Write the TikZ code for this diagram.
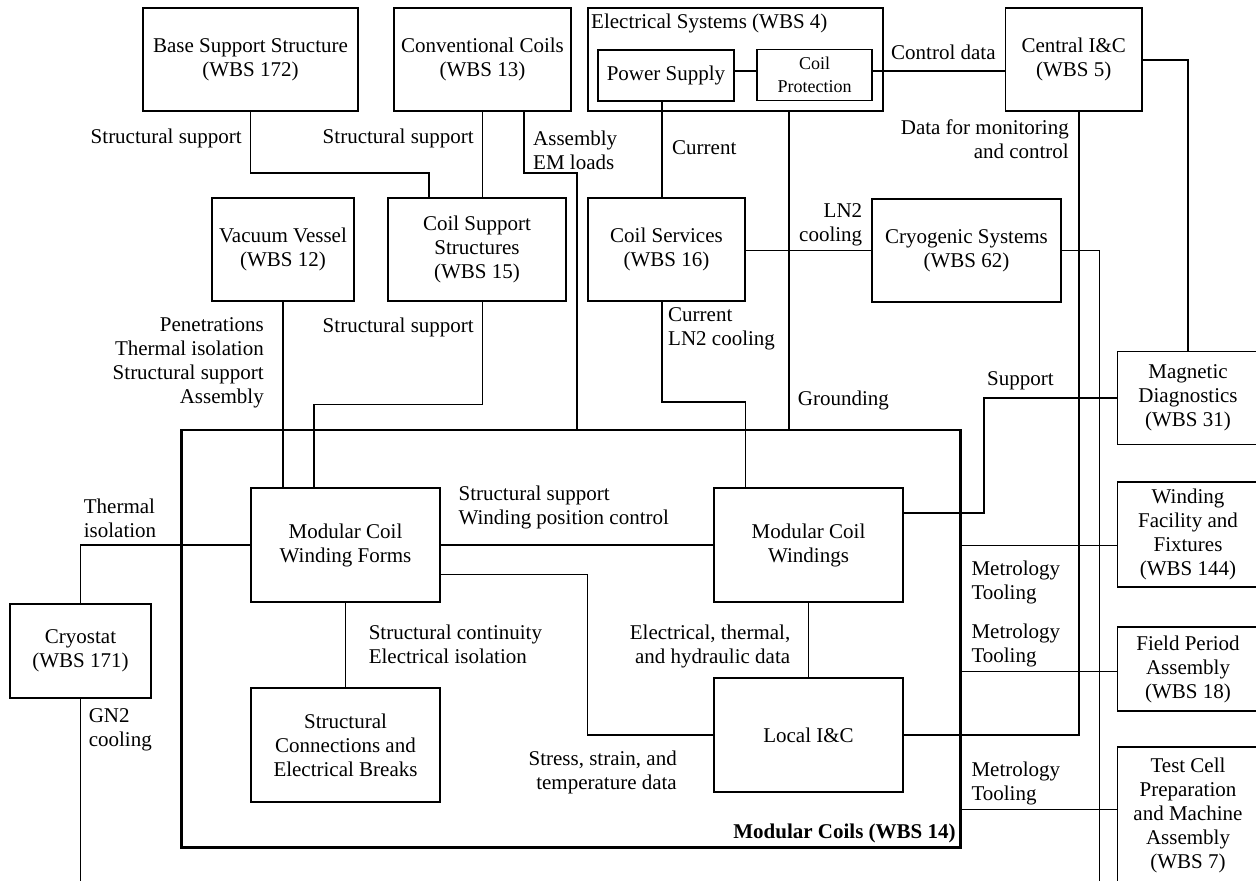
\documentclass[tikz,border=0pt]{standalone}
\usepackage{fontspec}
\setmainfont{Liberation Serif}
\begin{document}
\begin{tikzpicture}[x=1pt,y=-1pt,
  every node/.style={font=\fontsize{21}{24}\selectfont, inner sep=0pt},
  box/.style={draw, line width=1.3pt, align=center, inner sep=0pt},
  frame/.style={draw, line width=2.8pt, inner sep=0pt},
  conn/.style={line width=1.3pt},
  lblL/.style={align=left, anchor=west},
  lblR/.style={align=right, anchor=east},
  small/.style={font=\fontsize{18}{23}\selectfont},
]
\clip (0,0) rectangle (1256,881);
\fill[white] (0,0) rectangle (1256,881);

% ---------- boxes ----------
\node[box, minimum width=215pt, minimum height=103pt] (base) at (250.5,59.5) {Base Support Structure\\(WBS 172)};
\node[box, minimum width=177pt, minimum height=103pt] (conv) at (482.5,59.5) {Conventional Coils\\(WBS 13)};
\node[box, minimum width=295pt, minimum height=103pt] (elec) at (735.5,59.5) {};
\node[anchor=west] (eleclbl) at (591,23) {Electrical Systems (WBS 4)};
\node[box, minimum width=136pt, minimum height=51pt] (psup) at (666,75.5) {Power Supply};
\node[box, small, minimum width=115pt, minimum height=51pt] (cprot) at (814.5,75.3) {Coil\\Protection};
\node[box, minimum width=136.5pt, minimum height=103pt] (cic) at (1073.75,59.5) {Central I\&C\\(WBS 5)};

\node[box, minimum width=142pt, minimum height=103pt] (vac) at (283,249.5) {Vacuum Vessel\\(WBS 12)};
\node[box, minimum width=178pt, minimum height=103pt] (css) at (477,249.5) {Coil Support\\Structures\\(WBS 15)};
\node[box, minimum width=157pt, minimum height=103pt] (csv) at (666.5,249.5) {Coil Services\\(WBS 16)};
\node[box, minimum width=189pt, minimum height=103pt] (cryo) at (966.5,250.5) {Cryogenic Systems\\(WBS 62)};

\node[box, minimum width=141pt, minimum height=92.5pt] (mag) at (1188,398) {Magnetic\\Diagnostics\\(WBS 31)};
\node[box, minimum width=141pt, minimum height=105pt] (wfix) at (1188,534.5) {Winding\\Facility and\\Fixtures\\(WBS 144)};
\node[box, minimum width=141pt, minimum height=84pt] (fpa) at (1188,669) {Field Period\\Assembly\\(WBS 18)};
\node[box, minimum width=141pt, minimum height=138pt] (tcell) at (1188,816) {\raisebox{3pt}{\begin{tabular}{@{}c@{}}Test Cell\\Preparation\\and Machine\\Assembly\\(WBS 7)\end{tabular}}};

\node[frame, minimum width=778.8pt, minimum height=417.7pt] (mcbox) at (571.1,638.85) {};
\node[anchor=east, font=\fontsize{21}{24}\selectfont\bfseries] (mclbl) at (955.8,833) {Modular Coils (WBS 14)};

\node[box, minimum width=189pt, minimum height=114pt] (mcwf) at (345.5,545) {Modular Coil\\Winding Forms};
\node[box, minimum width=189pt, minimum height=114pt] (mcw) at (808.5,545) {Modular Coil\\Windings};
\node[box, minimum width=189pt, minimum height=114pt] (lic) at (808.5,735) {Local I\&C};
\node[box, minimum width=189pt, minimum height=114pt] (scon) at (345.5,745) {Structural\\Connections and\\Electrical Breaks};
\node[box, minimum width=141pt, minimum height=94pt] (cryost) at (80.5,651) {Cryostat\\(WBS 171)};

\coordinate (cryoend) at (1099.5,890);
\coordinate (cryostend) at (80.5,890);

% ---------- connectors ----------
\draw[conn] (base.south) |- (429,173) -- (429,0 |- css.north);
\draw[conn] (conv.south) -- (conv.south |- css.north);
\draw[conn] (524,0 |- conv.south) |- (577,173) -- (577,0 |- mcbox.north);
\draw[conn] (psup.east |- 0,71) -- (cprot.west |- 0,71);
\draw[conn] (cprot.east |- 0,71) -- (cic.west |- 0,71);
\draw[conn] (662,0 |- psup.south) -- (662,0 |- csv.north);
\draw[conn] (789,0 |- elec.south) -- (789,0 |- mcbox.north);
\draw[conn] (cic.east |- 0,60) -| (mag.north);
\draw[conn] (1079,0 |- cic.south) |- (lic.east);
\draw[conn] (cryo.west) -- (cryo.west -| csv.east);
\draw[conn] (cryo.east) -| (cryoend);
\draw[conn] (vac.south) -- (vac.south |- mcwf.north);
\draw[conn] (482.6,0 |- css.south) |- (314,404.7) -- (314,0 |- mcwf.north);
\draw[conn] (662,0 |- csv.south) |- (745.5,402) -- (745.5,0 |- mcw.north);
\draw[conn] (mag.west) -| (984,513) -- (984,513 -| mcw.east);
\draw[conn] (cryost.north) |- (mcwf.west);
\draw[conn] (cryost.south) -- (cryostend);
\draw[conn] (mcwf.east) -- (mcw.west);
\draw[conn] (mcwf.east |- 0,574.3) -| (587.8,735) -- (lic.west);
\draw[conn] (mcwf.south) -- (scon.north);
\draw[conn] (mcw.south) -- (lic.north);
\draw[conn] (mcbox.east |- 0,545.3) -- (wfix.west |- 0,545.3);
\draw[conn] (mcbox.east |- 0,671.7) -- (fpa.west |- 0,671.7);
\draw[conn] (mcbox.east |- 0,809.3) -- (tcell.west |- 0,809.3);

% ---------- labels ----------
\node[lblR] (l1) at (242,138) {Structural support};
\node[lblR] (l2) at (474,138) {Structural support};
\node[lblL] (l3) at (533,150) {Assembly\\EM loads};
\node[lblL] (l4) at (672,148) {Current};
\node[lblL] (l5) at (891,52) {Control data};
\node[lblR] (l6) at (1069,139.5) {Data for monitoring\\and control};
\node[lblR] (l7) at (862.4,224.5) {LN2\\cooling};
\node[lblR] (l8) at (264,363) {Penetrations\\Thermal isolation\\Structural support\\Assembly};
\node[lblR] (l9) at (474,327) {Structural support};
\node[lblL] (l10) at (668,329) {Current\\LN2 cooling};
\node[lblL] (l11) at (797.7,400) {Grounding};
\node[lblL] (l12) at (987,381) {Support};
\node[lblL] (l13) at (83.7,518) {Thermal\\isolation};
\node[lblL] (l14) at (88.6,729.5) {GN2\\cooling};
\node[lblL] (l15) at (458.4,507.5) {Structural support\\Winding position control};
\node[lblL] (l16) at (368.6,644) {Structural continuity\\Electrical isolation};
\node[lblR] (l17) at (790.4,646) {Electrical, thermal,\\and hydraulic data};
\node[lblR] (l18) at (677,772.3) {Stress, strain, and\\temperature data};
\node[lblL] (l19) at (971.3,582) {Metrology\\Tooling};
\node[lblL] (l20) at (971.3,645) {Metrology\\Tooling};
\node[lblL] (l21) at (971.3,783.5) {Metrology\\Tooling};
\end{tikzpicture}
\end{document}
